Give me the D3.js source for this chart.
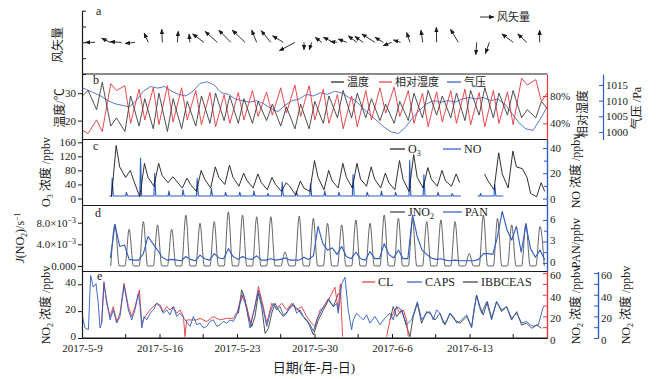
<!DOCTYPE html>
<html>
<head>
<meta charset="utf-8">
<script src="https://cdn.jsdelivr.net/npm/d3@7/dist/d3.min.js"></script>
<style>
  body { margin: 0; background: #fff; }
  text { font-family: 'Liberation Serif', 'Noto Sans CJK SC', serif; fill: #1a1a1a; }
  .tick text { font-size: 11px; }
</style>
</head>
<body>
<div id="chart"></div>
<script>
// ---- time: the records are plotted on a "data day" grid (one diurnal cycle per day),
// the date labels of the bottom axis run on their own scale
const dataDayRange = [-1.83, 30.99];
const dateRange = ['2017-05-09 00:00', '2017-06-20 00:00'];
const dateTicks = ['2017-05-09 00:00', '2017-05-16 00:00', '2017-05-23 00:00', '2017-05-30 00:00', '2017-06-06 00:00', '2017-06-13 00:00'];
const dateMinorTicks = ['2017-05-12 21:36', '2017-05-19 21:36', '2017-05-26 21:36', '2017-06-02 21:36', '2017-06-09 21:36', '2017-06-16 21:36'];

// ---- a: wind vectors (data day, u, v in m/s)
const windDay = [-0.91, 0.15, 0.97, 1.91, 2.85, 3.84, 4.9, 5.79, 6.78, 7.72, 8.67, 9.68, 10.5, 11.49, 12.38, 13.2, 13.84, 14.38, 15.09, 15.91, 16.17, 16.85, 17.56, 18.02, 18.85, 19.44, 20.03, 20.66, 21.32, 22.22, 23.2, 24.73, 26.03, 26.92, 28.61, 29.56, 30.47];
const windU = [-3.3, -2.8, -3.9, -3.3, -1.4, -0.2, 0.3, -0.3, -3.8, -4.1, -4.0, -4.3, -1.7, -3.2, -3.6, -5.2, 0, -0.8, -2.2, -3.3, -2.2, -2.8, -2.8, -2.8, -4.4, -2.8, -2.8, -2.4, -1.1, -0.6, -0.1, -2.6, -0.3, -1.3, -3.8, -3.0, 0];
const windV = [0, 1.4, 0.2, -0.4, 3.1, 4.4, 3.7, 2.8, 2.8, 3.7, 4.1, 4.1, 4.1, 3.9, 2.2, -2.8, -2.5, -2.5, 1.7, 1.7, 0.3, 1.1, 2.2, 2.0, 2.8, 1.7, -1.1, 0.8, 3.3, 4.1, 5.0, 4.4, -4.1, -3.7, 2.8, 2.8, 4.1];

// ---- b: daily extremes, days -2 .. 31 (temperature min ~05h / max ~14h, RH max ~05h / min ~14h)
const metDays = d3.range(-2, 32);
const tMin = [29, 24, 18, 16, 18, 17, 16, 17, 18, 19, 20, 19, 19, 20, 18, 17, 17, 19, 21, 21, 21, 20, 19, 20, 21, 22, 21, 20, 22, 21, 22, 21, 21, 23];
const tMax = [31, 34, 21, 29, 28, 30, 28, 27, 29, 30, 29, 28, 27, 26, 25, 26, 27, 29, 31, 30, 28, 26, 27, 30, 31, 29, 30, 31, 32, 30, 31, 24, 27, 29];
const rhMax = [30, 45, 98, 95, 90, 92, 95, 92, 88, 85, 82, 85, 88, 86, 92, 96, 95, 90, 82, 80, 88, 92, 93, 88, 84, 86, 88, 90, 85, 88, 86, 106, 104, 90];
const rhMin = [25, 28, 88, 40, 45, 38, 42, 45, 38, 35, 40, 45, 50, 52, 55, 50, 45, 40, 32, 35, 45, 55, 50, 40, 35, 42, 40, 38, 35, 40, 38, 96, 72, 55];
// pressure (hPa), every half day from day -2 to day 31
const presDays = d3.range(-2, 31.01, 0.5);
const pres = [1014.5, 1013.5, 1012.5, 1011.5, 1010, 1009, 1008.5, 1008, 1010, 1013, 1014.5, 1014, 1014.5, 1013, 1012, 1011.5, 1013, 1015.5, 1016, 1015, 1012.5, 1012, 1010.5, 1010, 1009.5, 1010, 1009, 1007.5, 1006.5, 1008.5, 1010, 1010.5, 1012, 1011.5, 1012.5, 1012, 1013, 1012.5, 1011, 1010, 1007.5, 1005.5, 1003.5, 1001.5, 1000, 999.5, 1001.5, 1004.5, 1007, 1009, 1010, 1009.5, 1010, 1009.5, 1010.5, 1011, 1010.5, 1011, 1010, 1010.5, 1009, 1006, 1003, 1001, 1000.5, 1004, 1008];

// ---- c: O3 at 06h / 14h / 20h, NO morning peak, days 0 .. 30
const chemDays = d3.range(0, 31);
const o3Morning = [5, 60, 5, 35, 45, 30, 20, 30, 40, 35, 30, 25, 20, 10, 20, 25, 30, 30, 35, 30, 25, 20, 30, 35, 35, null, null, 25, 30, 85, 5];
const o3Noon = [151, 80, 100, 100, 62, 58, 80, 90, 95, 72, 70, 60, 45, 50, 108, 80, 100, 100, 90, 72, 108, 125, 88, 80, 70, null, 70, 130, 135, 60, 45];
const o3Evening = [90, 50, 60, 65, 50, 40, 55, 60, 60, 50, 45, 40, 35, 30, 60, 50, 60, 55, 55, 45, 55, 60, 55, 50, 45, null, 50, 70, 90, 15, 20];
const noBase = 2;
const noPeak = [16, 5, 32, 20, 6, 7, 16, 8, 5, 5, 6, 4, 13, 6, 12, 6, 5, 19, 5, 6, 5, 30, 19, 5, 4, null, 4, 11];

// ---- d: JNO2 noon peak (s-1), PAN at 04h / 12h / 20h (ppbv)
const jno2Peak = [7.75e-3, 6.8e-3, 8.2e-3, 7.6e-3, 6.8e-3, 9.4e-3, 7.9e-3, 8.2e-3, 10.0e-3, 9.4e-3, 9.1e-3, 9.1e-3, 2.6e-3, 9.2e-3, 8.8e-3, 7.9e-3, 7.6e-3, 8.5e-3, 7.9e-3, 9.4e-3, 8.8e-3, 8.5e-3, 8.2e-3, 8.5e-3, 8.2e-3, 2.3e-3, 9.4e-3, 8.8e-3, 7.6e-3, 7.9e-3, 7.3e-3];
const pan04 = [0.7, 2.5, 0.4, 2.7, 0.4, 0.3, 0.3, 0.4, 0.6, 0.5, 0.5, 0.4, 0.5, 0.4, 0.5, 2.7, 1.2, 0.6, 0.4, 0.6, 0.7, 0.6, 1.8, 0.5, 0.3, 0.3, 0.5, 1.2, 4.6, 1.5, 0.8];
const pan12 = [5.3, 0.5, 1.3, 1.8, 0.5, 0.9, 1.1, 1.3, 2.0, 0.9, 1.0, 0.6, 0.7, 0.4, 1.0, 1.8, 2.3, 1.5, 1.6, 2.7, 1.8, 6.7, 1.2, 0.6, 0.4, 0.3, 1.3, 3.7, 3.2, 5.3, 1.8];
const pan20 = [2.3, 0.4, 3.7, 0.8, 0.4, 0.5, 0.6, 0.7, 0.9, 0.6, 0.4, 0.4, 0.4, 0.8, 5.1, 2.1, 0.9, 0.6, 0.6, 1.2, 0.6, 3.7, 0.7, 0.4, 0.3, 0.3, 1.3, 7.2, 5.1, 2.0, 0.4];

// ---- e: NO2 by three instruments, [data day, ppbv]; null breaks the trace
const caps = [[-1.85, 22.9], [-1.62, 9.3], [-1.38, 7.8], [-1.22, 57.8], [-1.03, 47.1], [-0.84, 50.2], [-0.68, 32], [-0.56, 9.3], [-0.44, 13.8], [-0.28, 50.2], [-0.09, 35], [0.15, 16.8], [0.38, 26], [0.62, 13.8], [0.85, 19.9], [1.14, 48.7], [1.44, 26], [1.68, 16.8], [1.91, 26], [2.15, 41.1], [2.27, 29], [2.39, 9.3], [2.55, 19.9], [2.74, 16.8], [2.97, 22.9], [3.21, 26], [3.44, 32], [3.68, 29], [3.91, 22.9], [4.15, 26], [4.38, 21.4], [4.62, 29], [4.85, 19.9], [5.09, 22.9], [5.44, 16.8], [5.8, 10.8], [6.03, 19.9], [6.27, 12.3], [6.5, 13.8], [6.74, 9.3], [6.97, 10.8], [7.21, 15.3], [7.44, 16.8], [7.68, 10.8], [7.91, 12.3], [8.15, 15.3], [8.38, 13.8], [8.62, 16.8], [8.85, 15.3], [9.14, 22.9], [9.33, 32], [9.56, 41], [9.8, 26], [10.03, 9.3], [10.27, 22.9], [10.62, 44.1], [10.97, 26], [11.21, 10.8], [11.44, 22.9], [11.68, 32], [11.91, 26], [12.15, 29], [12.38, 21.4], [12.62, 22.9], [12.85, 29], [13.09, 32], [13.32, 22.9], [13.56, 26], [13.79, 19.9], [14.03, 16.8], [14.27, 12.3], [14.5, 6.2], [14.74, 16.8], [14.97, 22.9], [15.21, 29], [15.56, 36.5], [15.91, 29], [16.15, 32], [16.26, 22.9], [16.5, 50.2], [16.73, 56.2], [16.96, 26], [17.2, 7.8], [17.32, 16.8], [17.55, 22.9], [17.79, 19.9], [18.02, 16.8], [18.26, 21.4], [18.49, 13.8], [18.85, 19.9], [19.2, 12.3], [19.55, 18.4], [19.91, 22.9], [20.14, 16.8], [20.38, 29], [20.73, 26], [21.08, 12.3], [21.44, 16.8], [21.84, 33.5], [22.14, 16.8], [22.49, 22.9], [22.73, 24.4], [22.96, 16.8], [23.2, 26], [23.43, 22.9], [23.67, 13.8], [23.9, 15.3], [24.14, 22.9], [24.38, 19.9], [24.61, 13.8], [24.85, 15.3], [25.08, 18.4], [25.32, 21.4], [25.67, 9.3], [25.83, 26], [26.02, 39.6], [26.21, 29], [26.38, 22.9], [26.73, 33.5], [27.08, 16.8], [27.43, 33.5], [27.79, 26], [28.14, 29], [28.49, 18.4], [28.85, 22.9], [29.2, 13.8], [29.55, 15.3], [29.79, 12.3], [30.02, 10.8], [30.38, 12.3], [30.73, 29]];
const cl = [[-0.44, 13.6], [-0.37, 32.1], [-0.28, 52.1], [-0.09, 32.1], [0.15, 19.8], [0.38, 29], [0.62, 15.1], [0.85, 22.8], [1.14, 50.6], [1.44, 29], [1.68, 19.8], [1.91, 29], [2.22, 44.4], [2.39, 13.6], [2.62, 19.8], [2.97, 25.9], [3.21, 29], [3.44, 32.1], [3.68, 30.5], [3.91, 24.4], [4.15, 29], [4.38, 25.9], [4.62, 29], [4.85, 22.8], [5.09, 25.9], [5.33, 19.8], [5.44, 1.3], [5.56, 16.7], [5.91, 16.7], [6.27, 16.7], [6.5, 18.2], [6.97, 15.1], [7.44, 19.8], [7.91, 16.7], [8.38, 18.2], [8.85, 18.2], [9.14, 24.4], [9.44, 39.8], [9.8, 29], [10.08, 13.6], [10.38, 29], [10.62, 47.5], [10.97, 29], [11.21, 13.6], [11.56, 32.1], [11.91, 27.5], [12.27, 32.1], [12.62, 25.9], [12.97, 32.1], [13.32, 25.9], [13.68, 29], [14.03, 19.8], [14.38, 13.6], [14.62, 10.5], [14.97, 25.9], [15.32, 29], [15.68, 38.2], [16.02, 47], [16.26, 25.9], [16.4, 50], [16.56, 1.3], [18, null], [19.67, 1.3], [19.91, 16.7], [20.14, 22.8], [20.38, 29], [20.61, 22.8], [20.85, 25.9], [21.08, 16.7], [21.2, 1.3]];
const ibbceas = [[9.21, 18.4], [9.44, 35.8], [9.68, 28.3], [9.91, 15.9], [10.15, 8.5], [10.38, 15.9], [10.62, 33.3], [10.85, 23.4], [11.09, 3.5], [11.33, 7.2], [11.56, 18.4], [11.8, 25.8], [12.03, 20.9], [12.38, 15.9], [12.74, 20.9], [13.09, 24.6], [13.44, 20.9], [13.79, 15.9], [14.15, 11], [14.5, 2.3], [14.85, 13.4], [15.21, 20.9], [15.56, 28.3], [15.91, 23.4], [16.27, 33.3], [18, null], [19.91, 13.4], [20.14, 23.4], [20.38, 15.9], [20.73, 20.9], [21.08, 8.5], [21.32, 1.0], [21.55, 15.9], [21.84, 25.8], [22.14, 11], [22.49, 19.6], [22.73, 18.4], [23.08, 13.4], [23.43, 18.4], [23.79, 9.7], [24.14, 18.4], [24.49, 13.4], [24.85, 11], [25.32, 15.9], [25.67, 8.5], [26.02, 32], [26.26, 23.4], [26.49, 17.2], [26.78, 27.1], [27.08, 14.7], [27.43, 27.1], [27.79, 19.6], [28.14, 23.4], [28.49, 13.4], [28.85, 19.6], [29.2, 9.7], [29.55, 11], [29.91, 7.2], [30.26, 9.7], [30.61, 7.2]];

// ---------- layout
const x0 = 82, x1 = 547;
const rowY = { a: [10.7, 74], b: [74, 139.5], c: [139.5, 205.5], d: [205.5, 271.5], e: [271.5, 338] };
const RED = '#e4373c', BLUE = '#2d5cc4', PBLUE = '#4669c4', INK = '#1a1a1a', GREY = '#3c3c3c';

const parseT = d3.timeParse('%Y-%m-%d %H:%M');
const dayX = d3.scaleLinear().domain(dataDayRange).range([x0, x1]);
const dateX = d3.scaleTime().domain(dateRange.map(parseT)).range([x0, x1]);

const yWind = d3.scaleLinear().domain([-2, 2]).range(rowY.a);
const yTemp = d3.scaleLinear().domain([13.1, 37.0]).range([rowY.b[1], rowY.b[0]]);
const yRH = d3.scaleLinear().domain([16.3, 112.2]).range([rowY.b[1], rowY.b[0]]);
const yPres = d3.scaleLinear().domain([997.6, 1018.5]).range([rowY.b[1], rowY.b[0]]);
const yO3 = d3.scaleLinear().domain([-19.9, 168]).range([rowY.c[1], rowY.c[0]]);
const yNO = d3.scaleLinear().domain([-5.5, 46.7]).range([rowY.c[1], rowY.c[0]]);
const yJ = d3.scaleLinear().domain([-1.02e-3, 11.18e-3]).range([rowY.d[1], rowY.d[0]]);
const yPAN = d3.scaleLinear().domain([-1.19, 8.02]).range([rowY.d[1], rowY.d[0]]);
const yNO2L = d3.scaleLinear().domain([0, 49.5]).range([rowY.e[1], rowY.e[0]]);
const yNO2R = d3.scaleLinear().domain([0, 61.5]).range([rowY.e[1], rowY.e[0]]);

const svg = d3.select('#chart').append('svg')
    .attr('width', 665)
    .attr('height', 379)
    .style('background', '#fff');

const defs = svg.append('defs');
Object.entries(rowY).forEach(([k, r]) => {
    defs.append('clipPath').attr('id', 'clip-' + k)
        .append('rect')
        .attr('x', x0).attr('y', r[0])
        .attr('width', x1 - x0).attr('height', r[1] - r[0]);
});
defs.append('marker')
    .attr('id', 'head')
    .attr('viewBox', '0 0 10 8')
    .attr('refX', 9).attr('refY', 4)
    .attr('markerUnits', 'userSpaceOnUse')
    .attr('markerWidth', 5.5).attr('markerHeight', 4.4)
    .attr('orient', 'auto')
    .append('path')
    .attr('d', 'M0,0L10,4L0,8z')
    .attr('fill', INK);

// ---------- helpers
function drawLine(panel, pts, y, color, width, curve) {
    const line = d3.line()
        .defined(d => d[1] != null)
        .x(d => dayX(d[0]))
        .y(d => y(d[1]));
    if (curve) line.curve(curve);
    svg.append('path')
        .datum(pts)
        .attr('clip-path', `url(#clip-${panel})`)
        .attr('fill', 'none')
        .attr('stroke', color)
        .attr('stroke-width', width)
        .attr('stroke-linejoin', 'round')
        .attr('d', line);
}

function addAxis(axis, x, y, color) {
    const g = svg.append('g')
        .attr('transform', `translate(${x},${y})`)
        .call(axis);
    g.select('.domain').attr('stroke', color).attr('stroke-width', 1.2);
    g.selectAll('.tick line').attr('stroke', color).attr('stroke-width', 1);
    return g;
}

function rich(sel, parts) {
    // parts: [text, dy, font-size, italic]
    parts.forEach(p => {
        const s = sel.append('tspan').text(p[0]);
        if (p[1]) s.attr('dy', p[1]);
        if (p[2]) s.style('font-size', p[2]);
        if (p[3]) s.style('font-style', 'italic');
    });
    return sel;
}

function vLabel(x, y, parts, size) {
    const t = svg.append('text')
        .attr('transform', `translate(${x},${y}) rotate(-90)`)
        .attr('text-anchor', 'middle')
        .style('font-size', size + 'px');
    return rich(t, parts);
}

function legendItem(xl, y, color, parts, size) {
    svg.append('line')
        .attr('x1', xl[0]).attr('x2', xl[1])
        .attr('y1', y).attr('y2', y)
        .attr('stroke', color).attr('stroke-width', 1.2);
    const t = svg.append('text')
        .attr('x', xl[1] + 3).attr('y', y + 4)
        .style('font-size', size + 'px');
    rich(t, parts);
}

function panelLetter(letter, x, y) {
    svg.append('text').attr('x', x).attr('y', y).style('font-size', '12px').text(letter);
}

const intFmt = d3.format('d');

// ---------- panel frames
[74, 139.5, 205.5, 271.5, 338].forEach(y => {
    svg.append('line')
        .attr('x1', x0).attr('x2', x1)
        .attr('y1', y).attr('y2', y)
        .attr('stroke', INK).attr('stroke-width', 1.2);
});

// ---------- a: wind vectors
addAxis(d3.axisLeft(yWind).tickValues([-2, -1, 0, 1, 2]).tickSizeInner(-4).tickSizeOuter(0).tickFormat(''), x0, 0, INK);
const windScale = 3; // px per m/s
windDay.forEach((t, i) => {
    const xt = dayX(t), yt = yWind(0);
    svg.append('line')
        .attr('x1', xt).attr('y1', yt)
        .attr('x2', xt + windU[i] * windScale)
        .attr('y2', yt - windV[i] * windScale)
        .attr('stroke', INK).attr('stroke-width', 0.9)
        .attr('marker-end', 'url(#head)');
});
svg.append('line')
    .attr('x1', 480).attr('y1', 17).attr('x2', 494).attr('y2', 17)
    .attr('stroke', INK).attr('stroke-width', 0.9)
    .attr('marker-end', 'url(#head)');
svg.append('text').attr('x', 497).attr('y', 21).style('font-size', '11px').text('风矢量');
panelLetter('a', 96, 15);
vLabel(62, 45, [['风矢量']], 12);

// ---------- b: temperature, RH, pressure
const tempPts = metDays.flatMap((k, i) => [[k + 0.2, tMin[i]], [k + 0.6, tMax[i]]]);
const rhPts = metDays.flatMap((k, i) => [[k + 0.2, rhMax[i]], [k + 0.6, rhMin[i]]]);
const presPts = presDays.map((k, i) => [k, pres[i]]);
drawLine('b', presPts, yPres, PBLUE, 0.9);
drawLine('b', rhPts, yRH, RED, 0.9);
drawLine('b', tempPts, yTemp, GREY, 0.9);

addAxis(d3.axisLeft(yTemp).tickValues([20, 30]).tickSizeInner(4).tickSizeOuter(0).tickPadding(2), x0, 0, INK);
addAxis(d3.axisRight(yRH).tickValues([40, 80]).tickSizeInner(-4).tickSizeOuter(0).tickPadding(3).tickFormat(d => d + '%'), x1, 0, RED);
addAxis(d3.axisRight(yPres).tickValues([1000, 1005, 1010, 1015]).tickSizeInner(-4).tickSizeOuter(0).tickPadding(3).tickFormat(intFmt), 603, 0, BLUE);
legendItem([331, 344], 82, INK, [['温度']], 11);
legendItem([379, 392], 82, RED, [['相对湿度']], 11);
legendItem([447, 461], 82, BLUE, [['气压']], 11);
panelLetter('b', 93, 84);
vLabel(64, 108, [['温度/℃']], 12);
vLabel(587, 114, [['相对湿度']], 12);
vLabel(641, 108, [['气压 /Pa']], 12);

// ---------- c: O3 and NO
const o3Pts = [];
chemDays.forEach((k, i) => {
    if (o3Noon[i] == null) { o3Pts.push([k + 0.5, null]); return; }
    o3Pts.push([k + 0.25, o3Morning[i]], [k + 0.58, o3Noon[i]], [k + 0.83, o3Evening[i]]);
});
const noPts = [];
noPeak.forEach((p, k) => {
    if (p == null) { noPts.push([k + 0.5, null]); return; }
    noPts.push([k + 0.1, noBase], [k + 0.25, noBase], [k + 0.3, p], [k + 0.38, noBase], [k + 0.9, noBase]);
});
drawLine('c', noPts, yNO, BLUE, 1.1);
drawLine('c', o3Pts, yO3, INK, 0.9);
addAxis(d3.axisLeft(yO3).tickValues([0, 40, 80, 120, 160]).tickSizeInner(4).tickSizeOuter(0).tickPadding(2), x0, 0, INK);
addAxis(d3.axisRight(yNO).tickValues([10, 30]).tickSizeInner(-3).tickSizeOuter(0).tickFormat(''), x1, 0, BLUE);
addAxis(d3.axisRight(yNO).tickValues([0, 20, 40]).tickSizeInner(-4).tickSizeOuter(0).tickPadding(3), x1, 0, BLUE);
legendItem([390, 405], 149, INK, [['O'], ['3', 3, '8px'], ['', -3]], 12);
legendItem([443, 461], 149, BLUE, [['NO']], 12);
panelLetter('c', 93, 150);
vLabel(50, 172, [['O'], ['3', 3, '8px'], [' 浓度 /ppbv', -3]], 12);
vLabel(580, 171, [['NO 浓度 /ppbv']], 12);

// ---------- d: JNO2 and PAN
const jPts = [];
jno2Peak.forEach((p, k) => jPts.push([k + 0.2, 0], [k + 0.5, p], [k + 0.8, 0]));
const panPts = [];
chemDays.forEach((k, i) => panPts.push([k + 0.17, pan04[i]], [k + 0.5, pan12[i]], [k + 0.83, pan20[i]]));
drawLine('d', jPts, yJ, GREY, 0.8, d3.curveMonotoneX);
drawLine('d', panPts, yPAN, BLUE, 1.1);
const jAxis = addAxis(d3.axisLeft(yJ).tickValues([0, 4e-3, 8e-3]).tickSizeInner(4).tickSizeOuter(0).tickPadding(2), x0, 0, INK);
jAxis.selectAll('.tick text').each(function (d) {
    if (d === 0) return;
    const t = d3.select(this).text('');
    rich(t, [[(d * 1e3).toFixed(1) + '×10'], ['−3', -4, '8px']]);
});
addAxis(d3.axisRight(yPAN).tickValues([1.5, 4.5]).tickSizeInner(-3).tickSizeOuter(0).tickFormat(''), x1, 0, BLUE);
const panAxis = addAxis(d3.axisRight(yPAN).tickValues([0, 3, 6]).tickSizeInner(-4).tickSizeOuter(0).tickPadding(3), x1, 0, BLUE);
panAxis.selectAll('.tick text').attr('dy', '0.2em');
legendItem([390, 405], 212, GREY, [['JNO'], ['2', 3, '8px'], ['', -3]], 12);
legendItem([443, 462], 212, BLUE, [['PAN']], 12);
panelLetter('d', 95, 217);
vLabel(24, 238, [['J', 0, null, true], ['(NO'], ['2', 3, '8px'], [')/s', -3], ['−1', -4, '8px']], 12);
vLabel(580, 243, [['PAN/ppbv']], 12);

// ---------- e: NO2
drawLine('e', ibbceas, yNO2L, GREY, 0.9);
drawLine('e', cl, yNO2R, RED, 0.9);
drawLine('e', caps, yNO2R, BLUE, 0.9);
addAxis(d3.axisLeft(yNO2L).tickValues([0, 20, 40]).tickSizeInner(4).tickSizeOuter(0).tickPadding(2), x0, 0, INK)
    .selectAll('.tick text').attr('dy', '0.12em');
addAxis(d3.axisRight(yNO2R).tickValues([10, 30, 50]).tickSizeInner(-4).tickSizeOuter(0).tickFormat(''), x1, 0, RED);
addAxis(d3.axisRight(yNO2R).tickValues([0, 20, 40, 60]).tickSizeInner(-4).tickSizeOuter(0).tickPadding(3), x1, 0, RED)
    .selectAll('.tick text').attr('dy', '0.5em');
addAxis(d3.axisRight(yNO2R).tickValues([10, 30, 50]).tickSizeInner(-4).tickSizeOuter(0).tickFormat(''), 598, 0, BLUE);
addAxis(d3.axisRight(yNO2R).tickValues([0, 20, 40, 60]).tickSizeInner(-4).tickSizeOuter(0).tickPadding(3), 598, 0, BLUE)
    .selectAll('.tick text').attr('dy', '0.5em');
legendItem([362, 375], 282, RED, [['CL']], 12);
legendItem([407, 422], 282, BLUE, [['CAPS']], 12);
legendItem([463, 478], 282, GREY, [['IBBCEAS']], 12);
panelLetter('e', 97, 280);
vLabel(50, 305, [['NO'], ['2', 3, '8px'], [' 浓度 /ppbv', -3]], 12);
vLabel(580, 305, [['NO'], ['2', 3, '8px'], [' 浓度 /ppbv', -3]], 12);
vLabel(630, 305, [['NO'], ['2', 3, '8px'], [' 浓度 /ppbv', -3]], 12);

// bottom date axis (ticks point into the panel)
addAxis(d3.axisBottom(dateX).tickValues(dateTicks.map(parseT)).tickSizeInner(-4).tickSizeOuter(0)
    .tickPadding(6).tickFormat(d3.timeFormat('%Y-%-m-%-d')), 0, rowY.e[1], INK);
addAxis(d3.axisBottom(dateX).tickValues(dateMinorTicks.map(parseT)).tickSizeInner(-4).tickSizeOuter(0)
    .tickFormat(''), 0, rowY.e[1], INK);
svg.append('text')
    .attr('x', 314).attr('y', 372)
    .attr('text-anchor', 'middle')
    .style('font-size', '13px')
    .text('日期(年-月-日)');
</script>
</body>
</html>
